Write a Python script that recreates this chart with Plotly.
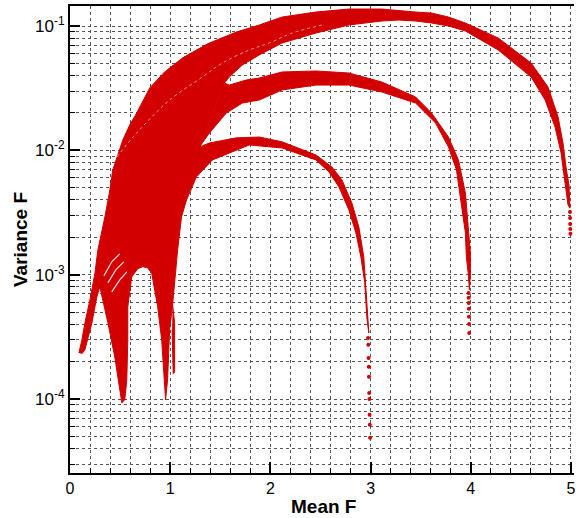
import plotly.graph_objects as go

RED = "#d20000"

# ---- data (Mean F, Variance F) ----
body_x = [0.089, 0.119, 0.149, 0.199, 0.249, 0.278, 0.348, 0.398, 0.427, 0.477, 0.527, 0.596,
          0.666, 0.795, 0.944, 1.123, 1.392, 1.541, 1.292, 1.421, 1.262, 1.163, 1.113, 1.074,
          1.054, 1.024, 0.994, 0.984, 0.974, 0.954, 0.934, 0.915, 0.875, 0.815, 0.775, 0.726,
          0.676, 0.616, 0.577, 0.577, 0.567, 0.547, 0.517, 0.497, 0.447, 0.378, 0.298, 0.268,
          0.219, 0.149, 0.119]
body_y = [2.35e-4, 2.99e-4, 4.10e-4, 6.27e-4, 1.03e-3, 1.58e-3, 2.91e-3, 4.80e-3, 6.96e-3, 9.18e-3,
          1.21e-2, 1.60e-2, 2.00e-2, 3.17e-2, 4.27e-2, 5.53e-2, 7.30e-2, 3.48e-2, 1.065e-2, 8.37e-3,
          6.11e-3, 3.99e-3, 2.91e-3, 1.58e-3, 9.96e-4, 5.72e-4, 3.60e-4, 2.49e-4, 1.43e-4, 9.85e-5,
          1.62e-4, 2.99e-4, 5.51e-4, 1.03e-3, 1.134e-3, 1.16e-3, 1.116e-3, 9.60e-4, 5.51e-4, 2.99e-4,
          1.43e-4, 9.85e-5, 9.32e-5, 1.19e-4, 2.18e-4, 4.10e-4, 7.98e-4, 6.63e-4, 4.10e-4, 2.49e-4,
          2.31e-4]

spike_x = [1.024, 1.044, 1.044, 1.030, 1.019]
spike_y = [5.72e-4, 4.10e-4, 1.65e-4, 1.60e-4, 3.60e-4]

arc5_x = [1.123, 1.392, 1.660, 1.889, 2.117, 2.455, 2.783, 3.111, 3.449, 3.608, 3.777, 3.946,
          4.274, 4.602, 4.771, 4.871, 4.920, 4.950, 4.980, 4.990, 4.990,
          4.970, 4.950, 4.940, 4.901, 4.841, 4.742, 4.602, 4.274, 3.946, 3.777, 3.608, 3.449,
          3.280, 3.111, 2.783, 2.455, 2.117, 1.889, 1.720, 1.590, 1.541]
arc5_y = [0.0553, 0.0730, 0.0895, 0.1019, 0.1181, 0.1296, 0.137, 0.137, 0.1296, 0.1272, 0.1181,
          0.1057, 0.0801, 0.0504, 0.0323, 0.0186, 0.01147, 0.00735, 0.00527, 0.00399, 0.00344,
          0.00364, 0.00480, 0.00578, 0.00953, 0.0154, 0.0254, 0.0389, 0.0641, 0.0912, 0.100,
          0.1057, 0.1097, 0.1117, 0.1097, 0.1019, 0.0878, 0.0730, 0.0585, 0.0486, 0.0389, 0.0348]

arc4_x = [1.541, 1.590, 1.759, 1.889, 2.117, 2.455, 2.783, 3.111, 3.449, 3.608, 3.777, 3.877,
          3.946, 3.976, 3.996, 3.996, 3.986,
          3.976, 3.956, 3.946, 3.907, 3.857, 3.777, 3.648, 3.449, 3.111, 2.783, 2.455, 2.117,
          1.889, 1.720, 1.561, 1.392, 1.292]
arc4_y = [0.0348, 0.0335, 0.0368, 0.0382, 0.0427, 0.0435, 0.0419, 0.0355, 0.0269, 0.0200, 0.0128,
          0.00837, 0.00454, 0.00242, 0.00150, 9.96e-4, 7.55e-4,
          9.96e-4, 1.39e-3, 2.17e-3, 3.78e-3, 6.96e-3, 1.065e-2, 1.66e-2, 2.40e-2, 2.95e-2,
          3.35e-2, 3.35e-2, 3.06e-2, 2.54e-2, 2.40e-2, 2.00e-2, 1.38e-2, 1.065e-2]

arc3_x = [1.292, 1.392, 1.660, 1.889, 2.117, 2.455, 2.614, 2.714, 2.813, 2.883, 2.932, 2.952,
          2.972, 2.982,
          2.962, 2.942, 2.903, 2.853, 2.783, 2.684, 2.584, 2.455, 2.117, 1.789, 1.660, 1.421, 1.292]
arc3_y = [0.01065, 0.01147, 0.0126, 0.0128, 0.0117, 0.00918, 0.00735, 0.00578, 0.00378, 0.00242,
          0.00139, 8.59e-4, 4.58e-4, 3.40e-4,
          4.58e-4, 8.59e-4, 1.39e-3, 2.17e-3, 3.32e-3, 5.08e-3, 6.71e-3, 8.37e-3, 1.045e-2,
          1.105e-2, 1.007e-2, 8.37e-3, 8.37e-3]

dots5_x = [4.990, 4.991, 4.992, 4.993, 4.994]
dots5_y = [0.00320, 0.00286, 0.00256, 0.00233, 0.00213]
dots4_x = [3.978, 3.979, 3.980, 3.981, 3.982, 3.983, 3.984]
dots4_y = [7.14e-4, 6.51e-4, 5.93e-4, 5.31e-4, 4.58e-4, 4.02e-4, 3.40e-4]
dots3_x = [2.975, 2.977, 2.980, 2.982, 2.984, 2.986, 2.988, 2.990, 2.992, 2.995]
dots3_y = [3.10e-4, 2.73e-4, 2.14e-4, 1.82e-4, 1.51e-4, 1.12e-4, 1.00e-4, 7.46e-5, 6.20e-5, 4.88e-5]

# thin gaps inside the dense band
gap1_x = [0.497, 0.417, 0.338]
gap1_y = [1.47e-3, 1.27e-3, 9.78e-4]
gap2_x = [0.537, 0.457, 0.378]
gap2_y = [1.27e-3, 1.093e-3, 8.59e-4]
gap3_x = [0.567, 0.497, 0.417]
gap3_y = [1.053e-3, 9.08e-4, 7.27e-4]
speck_x = [0.467, 0.666, 0.994, 1.322, 1.521, 1.789, 1.988, 2.217, 2.515]
speck_y = [0.00885, 0.0138, 0.0254, 0.0389, 0.0504, 0.0641, 0.0730, 0.0878, 0.1019]

x_ticks = [0, 1, 2, 3, 4, 5]
y_ticks = [1e-4, 1e-3, 1e-2, 1e-1]
y_ticktext = ["10<sup>-4</sup>", "10<sup>-3</sup>", "10<sup>-2</sup>", "10<sup>-1</sup>"]
y_minor = [m * 10.0 ** e for e in range(-5, 0) for m in range(2, 10)]

fig = go.Figure()
for xs, ys in [(body_x, body_y), (spike_x, spike_y), (arc5_x, arc5_y),
               (arc4_x, arc4_y), (arc3_x, arc3_y)]:
    fig.add_trace(go.Scatter(x=xs, y=ys, mode="lines", fill="toself", fillcolor=RED,
                             line=dict(color=RED, width=1), hoverinfo="skip", showlegend=False))
for xs, ys in [(dots5_x, dots5_y), (dots4_x, dots4_y), (dots3_x, dots3_y)]:
    fig.add_trace(go.Scatter(x=xs, y=ys, mode="markers",
                             marker=dict(color=RED, size=4, symbol="circle"),
                             hoverinfo="skip", showlegend=False))
for xs, ys in [(gap1_x, gap1_y), (gap2_x, gap2_y), (gap3_x, gap3_y)]:
    fig.add_trace(go.Scatter(x=xs, y=ys, mode="lines", line=dict(color="white", width=1.1),
                             opacity=0.9, hoverinfo="skip", showlegend=False))
fig.add_trace(go.Scatter(x=speck_x, y=speck_y, mode="lines",
                         line=dict(color="white", width=1, dash="dot", shape="spline"),
                         opacity=0.6, hoverinfo="skip", showlegend=False))

FONT = "Liberation Sans, Arial, sans-serif"
grid = dict(showgrid=True, gridcolor="#555555", gridwidth=1, griddash="dot")

fig.update_layout(
    width=576, height=518,
    margin=dict(l=70, r=0, t=6, b=45),
    paper_bgcolor="white", plot_bgcolor="white",
    font=dict(family=FONT, color="black"),
    xaxis=dict(range=[0, 5.03], showline=True, linecolor="black", linewidth=2, mirror=True,
               ticks="inside", ticklen=11, tickwidth=2, tickcolor="black",
               tickvals=x_ticks, tickfont=dict(size=16, family=FONT), zeroline=False,
               ticklabeloverflow="allow",
               minor=dict(dtick=0.2, ticks="inside", ticklen=5, tickwidth=1, tickcolor="black",
                          **grid),
               **grid),
    yaxis=dict(type="log", range=[-4.595, -0.839], showline=True, linecolor="black", linewidth=2,
               ticks="inside", ticklen=10, tickwidth=2, tickcolor="black",
               tickvals=y_ticks, ticktext=y_ticktext, tickfont=dict(size=17, family=FONT),
               zeroline=False,
               minor=dict(tickvals=y_minor, ticks="inside", ticklen=5, tickwidth=1,
                          tickcolor="black", **grid),
               **grid),
    annotations=[
        dict(text="<b>Mean F</b>", xref="paper", yref="paper", x=0.502, y=0, xanchor="center",
             yanchor="top", yshift=-21, showarrow=False, font=dict(size=19, family=FONT)),
        dict(text="<b>Variance F</b>", xref="paper", yref="paper", x=0, y=0.5, xanchor="right",
             yanchor="middle", xshift=-37, textangle=-90, showarrow=False,
             font=dict(size=19, family=FONT)),
    ],
)

fig.write_html("out.html")
